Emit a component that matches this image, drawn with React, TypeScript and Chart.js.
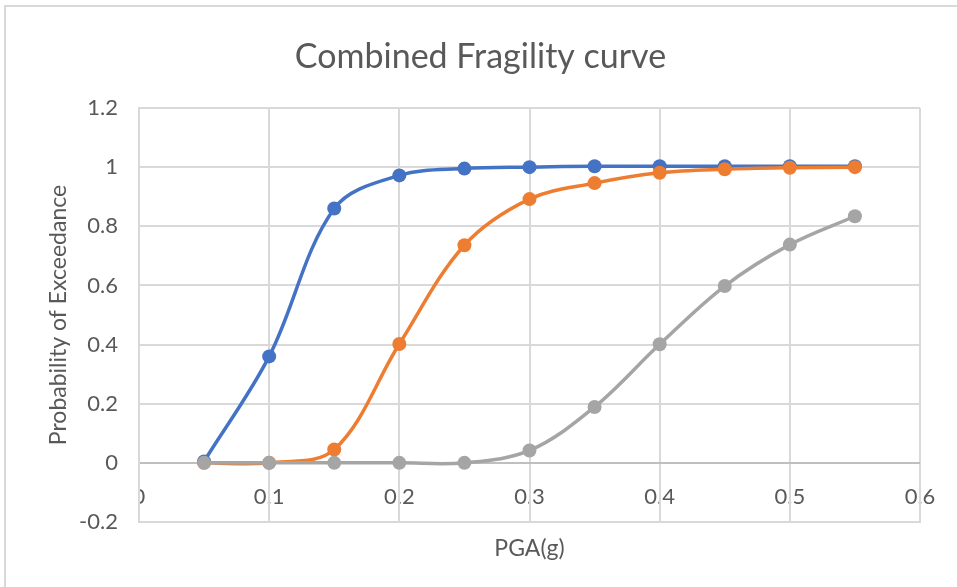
import React, { useEffect, useRef } from "react";
import { Chart, registerables } from "chart.js";

Chart.register(...registerables);

const pga = [0.05, 0.1, 0.15, 0.2, 0.25, 0.3, 0.35, 0.4, 0.45, 0.5, 0.55];
const slight = [0.005, 0.36, 0.86, 0.972, 0.995, 1.0, 1.003, 1.003, 1.003, 1.003, 1.003];
const moderate = [0, 0, 0.045, 0.402, 0.736, 0.892, 0.946, 0.981, 0.993, 0.998, 1.0];
const extensive = [0, 0, 0, 0, 0, 0.042, 0.189, 0.401, 0.598, 0.738, 0.834];

const titleText = "Combined Fragility curve";
const xTitle = "PGA(g)";
const yTitle = "Probability of Exceedance";

const FONT = "Lato";
const TEXT = "#595959";
const GRID = "#D9D9D9";

const fmt = (v: any) => String(Number(Number(v).toFixed(1)));

// chart frame, title and x tick labels (labels sit on the y = 0 line, under the grid)
const decor = {
  id: "decor",
  beforeDraw(chart: any) {
    const ctx = chart.ctx;
    const area = chart.chartArea;
    ctx.save();
    ctx.strokeStyle = GRID;
    ctx.lineWidth = 2;
    ctx.beginPath();
    ctx.moveTo(5, chart.height);
    ctx.lineTo(5, 6);
    ctx.lineTo(chart.width, 6);
    ctx.stroke();

    ctx.fillStyle = TEXT;
    ctx.textAlign = "center";
    ctx.textBaseline = "middle";
    ctx.font = `34px ${FONT}`;
    ctx.fillText(titleText, chart.width / 2 + 2, 57);

    const xs = chart.scales.x;
    const ys = chart.scales.y;
    const y0 = ys.getPixelForValue(0);
    ctx.font = `22px ${FONT}`;
    ctx.beginPath();
    ctx.rect(area.left + 1, 0, chart.width, chart.height);
    ctx.clip();
    xs.ticks.forEach((t: any) => {
      ctx.fillText(fmt(t.value), xs.getPixelForValue(t.value), y0 + 34);
    });
    ctx.restore();
  },
};

export default function App() {
  const ref = useRef<HTMLCanvasElement>(null);
  useEffect(() => {
    document.body.style.margin = "0";
    const mk = (data: number[], color: string, order: number) => ({
      data: pga.map((x, i) => ({ x, y: data[i] })),
      borderColor: color,
      backgroundColor: color,
      borderWidth: 3.5,
      pointRadius: 7,
      pointBorderWidth: 0,
      tension: 0.35,
      showLine: true,
      order,
    });
    const chart = new Chart(ref.current!, {
      type: "scatter",
      data: {
        datasets: [
          mk(slight, "#4472C4", 3),
          mk(moderate, "#ED7D31", 2),
          mk(extensive, "#A5A5A5", 1),
        ],
      },
      plugins: [decor],
      options: {
        animation: false,
        responsive: false,
        layout: { padding: { left: 0, right: 37, top: 108, bottom: 0 } },
        plugins: {
          legend: { display: false },
          tooltip: { enabled: false },
          title: { display: false },
        },
        scales: {
          x: {
            type: "linear",
            min: 0,
            max: 0.6,
            afterFit: (s: any) => {
              s.height = 65;
            },
            ticks: {
              stepSize: 0.1,
              display: false,
              callback: fmt,
            },
            grid: { color: GRID, lineWidth: 2, drawTicks: false },
            border: { color: GRID, width: 2 },
            title: {
              display: true,
              text: xTitle,
              color: TEXT,
              font: { family: FONT, size: 23 },
              padding: { top: 0, bottom: 25 },
            },
          },
          y: {
            type: "linear",
            min: -0.2,
            max: 1.2,
            afterFit: (s: any) => {
              s.width = 139;
            },
            ticks: {
              stepSize: 0.2,
              padding: 21,
              color: TEXT,
              font: { family: FONT, size: 22 },
              callback: fmt,
            },
            grid: {
              color: (c: any) => (c.tick && Math.abs(c.tick.value) < 1e-9 ? "#BFBFBF" : GRID),
              lineWidth: 2,
              drawTicks: false,
            },
            border: { color: GRID, width: 2 },
            title: {
              display: true,
              text: yTitle,
              color: TEXT,
              font: { family: FONT, size: 23 },
              padding: { top: 45, bottom: 0 },
            },
          },
        },
      },
    } as any);
    return () => chart.destroy();
  }, []);
  return <canvas ref={ref} width={957} height={587} />;
}
